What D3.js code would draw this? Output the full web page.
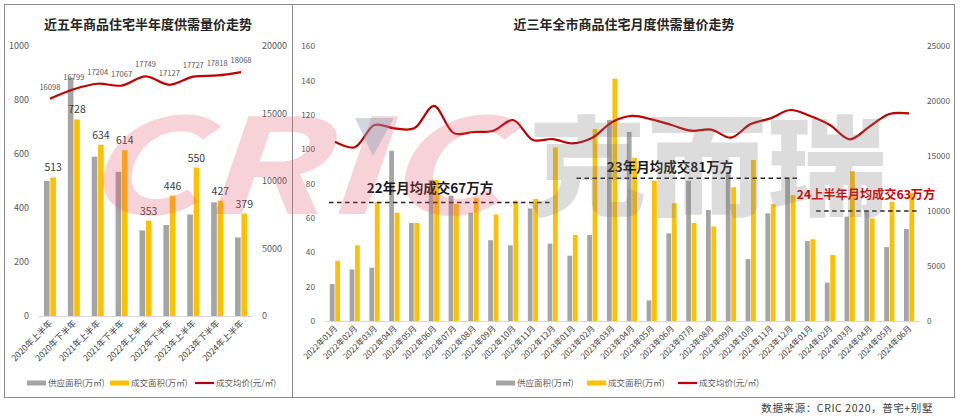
<!DOCTYPE html>
<html><head><meta charset="utf-8">
<script src="https://cdn.jsdelivr.net/npm/d3@7"></script>
<style>
body{margin:0;background:#fff}
svg{display:block}
text{font-family:"Noto Sans CJK SC","Liberation Sans",sans-serif}
</style>
</head><body>
<svg id="c" width="960" height="416"></svg>
<script>
// ---------- data: left chart (half-year) ----------
const halfYears = ["2020年上半年","2020年下半年","2021年上半年","2021年下半年","2022年上半年","2022年下半年","2023年上半年","2023年下半年","2024年上半年"];
const hySupply = [500, 882, 590, 534, 317, 337, 376, 421, 291];
const hyDeal   = [513, 728, 634, 614, 353, 446, 550, 427, 379];
const hyPrice  = [16098, 16799, 17204, 17067, 17749, 17127, 17727, 17818, 18068];
const hyLeftTicks = [0, 200, 400, 600, 800, 1000];
const hyRightTicks = [0, 5000, 10000, 15000, 20000];

// ---------- data: right chart (monthly) ----------
const months = ["2022年01月","2022年02月","2022年03月","2022年04月","2022年05月","2022年06月","2022年07月","2022年08月","2022年09月","2022年10月","2022年11月","2022年12月",
  "2023年01月","2023年02月","2023年03月","2023年04月","2023年05月","2023年06月","2023年07月","2023年08月","2023年09月","2023年10月","2023年11月","2023年12月",
  "2024年01月","2024年02月","2024年03月","2024年04月","2024年05月","2024年06月"];
const mSupply = [21.5, 30, 31, 99, 57, 82, 73, 63, 47, 44, 65.5, 45,
                 38, 50, 117, 110, 12, 51, 81.6, 64.6, 86, 36, 62.6, 83.6,
                 46.5, 22.3, 60.7, 64, 43, 53.5];
const mDeal   = [35, 44, 69, 63, 57, 82, 68, 71.5, 62, 70, 71, 101,
                 50, 111.7, 141, 95, 81.6, 68.5, 57, 55, 77.8, 93.7, 68, 73.3,
                 47.5, 38.4, 87.3, 59.7, 69.4, 74.6];
const mPrice  = [16300, 15790, 17820, 17515, 17515, 19550, 17080, 17180, 17300, 18270, 16450, 16540,
                 16150, 16650, 18080, 18640, 18330, 17820, 17300, 17400, 16670, 17900, 18420, 19180,
                 18640, 17820, 16520, 17670, 18820, 18880];
const mLeftTicks = [0, 20, 40, 60, 80, 100, 120, 140, 160];
const mRightTicks = [0, 5000, 10000, 15000, 20000, 25000];
const avgLabels = ["22年月均成交67万方", "23年月均成交81万方", "24上半年月均成交63万方"];
const avgLevels = [69, 83, 64];
const avgFrom = ["2022年01月", "2023年01月", "2024年01月"];
const avgTo   = ["2022年12月", "2023年12月", "2024年06月"];

const legendNames = ["供应面积(万㎡)", "成交面积(万㎡)", "成交均价(元/㎡)"];
const titles = ["近五年商品住宅半年度供需量价走势", "近三年全市商品住宅月度供需量价走势"];
const sourceNote = "数据来源：CRIC 2020，普宅+别墅";

// ---------- styles ----------
const GRAY = "#A5A5A5", YEL = "#FFC000", RED = "#C00000";
const svg = d3.select("#c");

// frames
svg.append("rect").attr("x",4.5).attr("y",4.5).attr("width",288).attr("height",393)
  .attr("fill","none").attr("stroke","#8c8c8c").attr("stroke-width",1);
svg.append("rect").attr("x",292.5).attr("y",4.5).attr("width",662).attr("height",393)
  .attr("fill","none").attr("stroke","#8c8c8c").attr("stroke-width",1);

// ---------- generic chart builder ----------
function buildChart(o) {
  const g = svg.append("g");
  const x = d3.scaleBand().domain(o.cats).range(o.xr);
  const bw = x.bandwidth();
  const inner = d3.scaleBand().domain(["s","d"]).range([-o.barW - 0.5, o.barW + 0.5]).paddingInner(0.12);
  const yL = d3.scaleLinear().domain(o.lDom).range([o.y0, o.y1]);
  const yR = d3.scaleLinear().domain(o.rDom).range([o.y0, o.y1]);

  g.append("text").attr("x", o.titleX).attr("y", 29).attr("text-anchor","middle")
    .attr("font-size", 13).attr("font-weight", 700).attr("fill","#262626").text(o.title);

  const fmt = d3.format("d");
  const aL = d3.axisLeft(yL).tickValues(o.lTicks).tickFormat(fmt).tickSize(0).tickPadding(o.padL);
  const aR = d3.axisRight(yR).tickValues(o.rTicks).tickFormat(fmt).tickSize(0).tickPadding(o.padR);
  const gl = g.append("g").attr("transform",`translate(${o.xr[0]},0)`).call(aL);
  const gr = g.append("g").attr("transform",`translate(${o.xr[1]},0)`).call(aR);
  [gl, gr].forEach(a => {
    a.select(".domain").remove();
    a.selectAll("text").attr("font-size", o.tickFont).attr("fill","#595959")
      .attr("font-family","'Liberation Sans',sans-serif");
  });
  g.append("line").attr("x1", o.xr[0]).attr("x2", o.xr[1]).attr("y1", o.y0 + 0.5).attr("y2", o.y0 + 0.5)
    .attr("stroke","#d9d9d9").attr("stroke-width",1);

  const cx = c => x(c) + bw / 2;
  g.selectAll(".bs").data(o.cats).join("rect")
    .attr("x", (c) => cx(c) + inner("s")).attr("width", inner.bandwidth())
    .attr("y", (c,i) => yL(o.supply[i])).attr("height", (c,i) => yL(0) - yL(o.supply[i]))
    .attr("fill", GRAY);
  g.selectAll(".bd").data(o.cats).join("rect")
    .attr("x", (c) => cx(c) + inner("d")).attr("width", inner.bandwidth())
    .attr("y", (c,i) => yL(o.deal[i])).attr("height", (c,i) => yL(0) - yL(o.deal[i]))
    .attr("fill", YEL);

  g.selectAll(".xl").data(o.cats).join("text")
    .attr("transform", c => `translate(${cx(c) + o.xlDx},${o.y0 + o.xlDy}) rotate(-45)`)
    .attr("text-anchor","end").attr("font-size", o.xFont).attr("fill","#404040").text(c => c);

  return {g, x, bw, cx, yL, yR, inner};
}

function drawLine(ch, cats, vals) {
  const line = d3.line().x((d,i) => ch.cx(cats[i])).y(d => ch.yR(d)).curve(d3.curveCatmullRom.alpha(0.5));
  ch.g.append("path").datum(vals).attr("d", line).attr("fill","none")
    .attr("stroke", RED).attr("stroke-width", 2.2).attr("stroke-linejoin","round");
}

function legend(xs, y) {
  const kinds = [GRAY, YEL, RED];
  kinds.forEach((col, i) => {
    const h = i === 2 ? 2.2 : 5;
    svg.append("rect").attr("x", xs[i]).attr("y", y - h / 2).attr("width", 19).attr("height", h).attr("fill", col);
    svg.append("text").attr("x", xs[i] + 21).attr("y", y + 3).attr("font-size", 8.5)
      .attr("fill","#595959").text(legendNames[i]);
  });
}

// ---------- left chart ----------
const L = buildChart({
  cats: halfYears, supply: hySupply, deal: hyDeal, xr: [38, 253], y0: 316, y1: 46,
  lDom: [0, 1000], rDom: [0, 20000], lTicks: hyLeftTicks, rTicks: hyRightTicks,
  padL: 9, padR: 9, tickFont: 9, barW: 5.5, xFont: 8.6, xlDx: 3, xlDy: 8,
  title: titles[0], titleX: 148
});
// ---------- right chart ----------
const R = buildChart({
  cats: months, supply: mSupply, deal: mDeal, xr: [325, 919], y0: 321, y1: 46,
  lDom: [0, 160], rDom: [0, 25000], lTicks: mLeftTicks, rTicks: mRightTicks,
  padL: 10, padR: 8, tickFont: 8.3, barW: 4.6, xFont: 8.2, xlDx: 3, xlDy: 8,
  title: titles[1], titleX: 624
});

// ---------- watermark (logo) ----------
const wm = svg.append("g").attr("pointer-events","none");
wm.append("text").attr("x", 80).attr("y", 214).attr("font-size", 132).attr("font-weight", 700)
  .attr("font-style","italic").attr("font-family","'Liberation Sans',sans-serif")
  .attr("textLength", 420).attr("lengthAdjust","spacingAndGlyphs")
  .attr("fill","#E0506A").attr("fill-opacity", 0.26).text("CRIC");
wm.append("path").attr("d","M355,118L394,118L373,156Z").attr("fill","#8a9bb3").attr("fill-opacity",0.4);
wm.append("text").attr("x", 527).attr("y", 207).attr("font-size", 108).attr("font-weight", 900)
  .attr("textLength", 360).attr("lengthAdjust","spacingAndGlyphs")
  .attr("fill","#7f7f7f").attr("fill-opacity", 0.27).text("克而瑞");

// ---------- lines & labels ----------
drawLine(L, halfYears, hyPrice);
drawLine(R, months, mPrice);

L.g.selectAll(".vl").data(halfYears).join("text")
  .attr("x", c => L.cx(c) + L.inner("d") + L.inner.bandwidth() / 2)
  .attr("y", (c,i) => L.yL(hyDeal[i]) - 6)
  .attr("text-anchor","middle").attr("font-size", 10.5).attr("fill","#404040")
  .attr("font-family","'Liberation Sans',sans-serif").text((c,i) => hyDeal[i]);
L.g.selectAll(".pl").data(halfYears).join("text")
  .attr("x", c => L.cx(c)).attr("y", (c,i) => L.yR(hyPrice[i]) - 9)
  .attr("text-anchor","middle").attr("font-size", 7.6).attr("fill","#595959")
  .attr("font-family","'Liberation Sans',sans-serif").text((c,i) => hyPrice[i]);

const avgX1 = [R.x(avgFrom[0]) + 4, R.x(avgFrom[1]) + R.bw / 2 + 4, R.x(avgFrom[2]) + R.bw / 2 + 6];
const avgX2 = [R.x(avgTo[0]) + R.bw / 2, R.x(avgTo[1]) + R.bw, R.x(avgTo[2]) + R.bw];
const avgTx = [430, 670, 866];
const avgTyOff = [-9, -6, -12];
const avgCol = ["#1a1a1a", "#1a1a1a", "#D00000"];
const avgFs = [13.5, 13.5, 12.2];
avgLevels.forEach((v, i) => {
  const y = R.yL(v);
  R.g.append("line").attr("x1", avgX1[i]).attr("x2", avgX2[i]).attr("y1", y).attr("y2", y)
    .attr("stroke","#262626").attr("stroke-width", 1.5).attr("stroke-dasharray","4.5,3.5");
  R.g.append("text").attr("x", avgTx[i]).attr("y", y + avgTyOff[i]).attr("text-anchor","middle")
    .attr("font-size", avgFs[i]).attr("font-weight", 700).attr("fill", avgCol[i]).text(avgLabels[i]);
});

legend([27, 110, 195], 383);
legend([496, 587, 678], 383);

svg.append("text").attr("x", 933).attr("y", 412).attr("text-anchor","end").attr("font-size", 10.5)
  .attr("fill","#404040").attr("letter-spacing", 0.6).text(sourceNote);
</script>
</body></html>
